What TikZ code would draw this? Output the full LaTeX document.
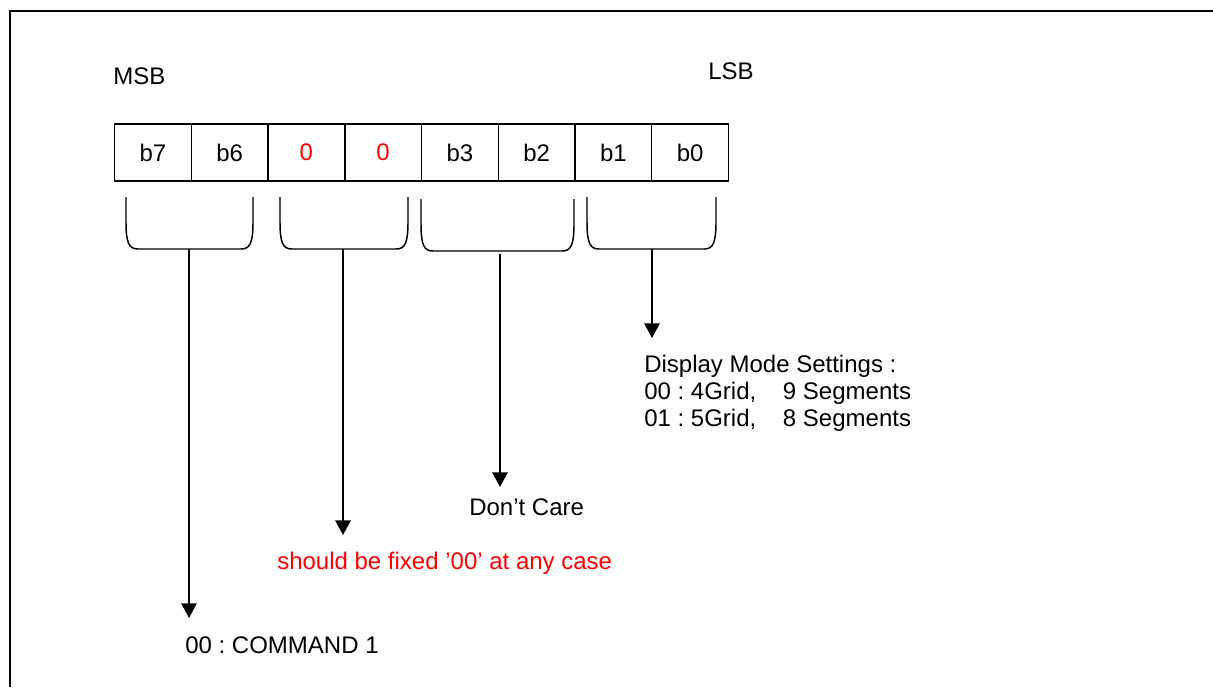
\documentclass[tikz,border=0pt]{standalone}
\usepackage{fontspec}
\setmainfont{Liberation Sans}
\usetikzlibrary{positioning}
\usetikzlibrary{arrows.meta}

\tikzset{
  bitbox/.style={draw, line width=1.1pt, minimum width=57.56pt, minimum height=42.75pt, inner sep=0pt, outer sep=0pt},
  brace/.style={line width=1.1pt},
  pointer/.style={line width=1.3pt, -{Triangle[length=11pt,width=11.5pt]}},
  txt/.style={inner sep=0pt}
}

\begin{document}
\frenchspacing
\begin{tikzpicture}[x=0.75pt,y=0.75pt,yscale=-1,xscale=1, every node/.style={font=\fontsize{18}{20.25}\selectfont}]
\useasboundingbox (0,0) rectangle (1213,687);

%Frame lines
\draw [line width=1.5pt] (9,11) -- (1213,11) ;
\draw [line width=1.5pt] (10,11) -- (10,687) ;

% Text Node
\node [txt, anchor=base west] (msb) at (113,84) {MSB};
% Text Node
\node [txt, anchor=base west] (lsb) at (708,79) {LSB};

%Shape: Bit boxes
\node [bitbox] (b7) at (152.9,152.5) {b7};
\node [bitbox, right=0pt of b7] (b6) {b6};
\node [bitbox, right=0pt of b6, text=red] (z5) {0};
\node [bitbox, right=0pt of z5, text=red] (z4) {0};
\node [bitbox, right=0pt of z4] (b3) {b3};
\node [bitbox, right=0pt of b3] (b2) {b2};
\node [bitbox, right=0pt of b2] (b1) {b1};
\node [bitbox, right=0pt of b1] (b0) {b0};

%Shape: Brackets
\draw [brace] (126,197) -- (126,222) .. controls (126,243) and (129,249) .. (138,249) -- (241,249) .. controls (250,249) and (253,243) .. (253,222) -- (253,197) ;
\draw [brace] (280,197) -- (280,222) .. controls (280,243) and (283,249) .. (292,249) -- (396,249) .. controls (405,249) and (408,243) .. (408,222) -- (408,197) ;
\draw [brace] (421,199) -- (421,224) .. controls (421,245) and (424,251) .. (433,251) -- (562,251) .. controls (571,251) and (574,245) .. (574,224) -- (574,199) ;
\draw [brace] (587,197) -- (587,222) .. controls (587,243) and (590,249) .. (599,249) -- (704,249) .. controls (713,249) and (716,243) .. (716,222) -- (716,197) ;

%Arrow ends
\coordinate (s1) at (189,249);
\coordinate (t1) at (189,618);
\coordinate (s2) at (343,249);
\coordinate (t2) at (343,535);
\coordinate (s3) at (500,254);
\coordinate (t3) at (500,487);
\coordinate (s4) at (652,249);
\coordinate (t4) at (652,338);

%Straight Lines with arrows
\draw [pointer] (s1) -- (t1) ;
\draw [pointer] (s2) -- (t2) ;
\draw [pointer] (s3) -- (t3) ;
\draw [pointer] (s4) -- (t4) ;

% Text Node
\node [txt, anchor=north west, align=left] (mode) at (644,355) {Display Mode Settings :\\00 : 4Grid,\hspace{20pt}9 Segments\\01 : 5Grid,\hspace{20pt}8 Segments};
% Text Node
\node [txt, anchor=base west] (dontcare) at (469,515) {Don’t Care};
% Text Node
\node [txt, anchor=base west, text=red] (fixed) at (277,569) {should be fixed ’00’ at any case};
% Text Node
\node [txt, anchor=base west] (cmd) at (185,653) {00 : COMMAND 1};

\end{tikzpicture}
\end{document}
